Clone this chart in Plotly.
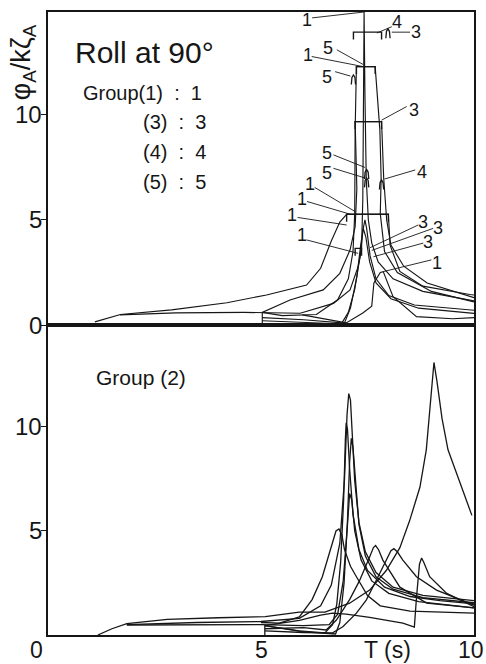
import plotly.graph_objects as go

INK = "#161616"
FONT = "Liberation Sans, Arial, sans-serif"
NUMFONT = "Liberation Sans Narrow, Liberation Sans, Arial, sans-serif"

# ---------------- Upper panel: Groups (1), (3), (4), (5) ----------------
# Period T (s) and non-dimensional roll amplitude for each traced curve
u1_T = [1.1, 1.7, 2.9, 4.2, 5.13, 6.07, 6.4, 6.65, 6.85, 7.01, 7.99, 8.03, 8.26, 8.8, 9.9, 10.0]
u1_y = [0.15, 0.5, 0.72, 1.06, 1.43, 1.9, 2.7, 4.0, 4.9, 5.27, 5.27, 3.8, 2.55, 1.85, 1.45, 1.43]

u2_T = [1.69, 3.0, 4.6, 5.92, 6.7, 7.09, 7.28, 7.36, 7.39, 7.41, 7.42, 7.44, 7.47, 7.52, 7.6, 7.75, 8.1, 8.8, 10.0]
u2_y = [0.48, 0.58, 0.6, 0.56, 1.03, 1.67, 2.78, 3.57, 6.0, 10.0, 14.9, 11.0, 7.0, 5.0, 3.9, 3.0, 2.2, 1.6, 1.15]

u3_T = [5.03, 5.03, 5.68, 6.46, 6.85, 7.09, 7.21, 7.25, 7.21, 7.83, 7.88, 7.95, 8.05, 8.35, 8.9, 10.0]
u3_y = [0.0, 0.6, 1.19, 1.67, 2.46, 3.57, 4.68, 6.5, 9.68, 9.68, 7.0, 5.0, 3.8, 2.8, 2.0, 1.3]

u4_T = [5.03, 5.5, 6.3, 6.8, 7.05, 7.16, 7.2, 7.21, 7.24, 7.68, 7.79, 7.82, 7.8, 7.9, 8.2, 9.0, 10.0]
u4_y = [0.6, 0.45, 0.5, 1.2, 2.2, 3.5, 5.3, 9.3, 12.3, 12.3, 9.3, 7.0, 5.3, 3.5, 2.5, 1.6, 1.1]

u5_T = [5.03, 6.0, 6.9, 7.05, 7.2, 7.32, 7.4, 7.44, 7.48, 7.56, 7.7, 8.0, 8.6, 10.0]
u5_y = [0.35, 0.25, 0.1, 0.6, 1.7, 3.2, 4.6, 5.0, 4.6, 3.3, 2.2, 1.4, 0.95, 0.7]

u6_T = [5.03, 6.2, 6.95, 7.1, 7.25, 7.34, 7.4, 7.46, 7.55, 7.7, 8.05, 8.7, 10.0]
u6_y = [0.2, 0.12, 0.05, 0.8, 2.3, 3.8, 4.6, 4.2, 3.0, 2.0, 1.25, 0.8, 0.55]

u7_T = [5.97, 6.6, 7.0, 7.39, 7.6, 7.65, 7.8, 7.87, 8.1, 8.65, 9.5, 10.0]
u7_y = [0.48, 0.25, 0.1, 0.57, 0.9, 2.0, 2.5, 2.54, 1.35, 0.4, 0.3, 0.35]

upper_curves = [(u1_T, u1_y), (u2_T, u2_y), (u3_T, u3_y), (u4_T, u4_y),
                (u5_T, u5_y), (u6_T, u6_y), (u7_T, u7_y)]

# Flat-topped peak markers: left T, right T, level
bar_T0 = [7.17, 7.24, 7.21, 7.01, 7.21]
bar_T1 = [7.83, 7.68, 7.83, 7.99, 7.36]
bar_y = [13.94, 12.3, 9.68, 5.27, 3.65]

# Small isolated peak tips: T, level
tip_T = [7.98, 7.17, 7.48, 7.48, 7.83]
tip_y = [14.1, 11.9, 7.4, 7.0, 6.9]

# Curve group numbers and their leader lines
lab_text = ["1", "4", "3", "5", "1", "5", "3", "5", "5", "4", "1", "1", "1", "1", "3", "3", "3", "1"]
lab_T = [6.07, 8.19, 8.65, 6.58, 6.11, 6.54, 8.58, 6.54, 6.54, 8.77, 6.16, 5.97, 5.73, 5.96, 8.81, 9.16, 8.93, 9.12]
lab_y = [14.52, 14.44, 13.97, 13.18, 12.86, 11.82, 10.24, 8.18, 7.22, 7.3, 6.72, 6.02, 5.26, 4.29, 4.92, 4.6, 3.97, 2.94]
lead_T0 = [6.2, 8.07, 8.5, 6.78, 6.19, 6.74, 8.42, 6.7, 6.7, 8.62, 6.26, 6.08, 5.86, 6.07, 8.69, 9.04, 8.81, 9.0]
lead_y0 = [14.62, 14.2, 13.94, 13.1, 12.78, 12.06, 10.4, 8.1, 7.46, 7.38, 6.55, 5.88, 5.12, 4.05, 4.76, 4.6, 3.9, 3.1]
lead_T1 = [7.42, 7.72, 8.07, 7.4, 7.4, 7.1, 7.83, 7.44, 7.44, 7.9, 7.21, 7.1, 7.01, 7.28, 7.56, 7.6, 7.64, 7.87]
lead_y1 = [14.9, 13.9, 13.94, 12.4, 12.3, 11.85, 9.75, 7.5, 7.0, 6.95, 5.4, 5.27, 4.76, 3.41, 3.68, 3.55, 3.25, 2.54]

# ---------------- Lower panel: Group (2) ----------------
b_big_T = [1.17, 1.5, 1.85, 2.8, 4.0, 5.1, 5.9, 6.5, 7.08, 7.55, 7.94, 8.26, 8.49, 8.73, 8.88, 8.98, 9.06, 9.13, 9.25, 9.39, 9.71, 9.95]
b_big_y = [0.0, 0.3, 0.55, 0.75, 0.83, 0.88, 1.1, 1.1, 1.53, 2.16, 3.1, 4.2, 5.5, 7.1, 8.9, 11.3, 13.1, 12.2, 10.4, 8.9, 7.1, 5.75]

b_a_T = [1.85, 3.5, 5.0, 5.9, 6.4, 6.65, 6.85, 6.96, 7.02, 7.06, 7.1, 7.14, 7.2, 7.3, 7.45, 7.7, 8.1, 8.8, 10.0]
b_a_y = [0.5, 0.6, 0.65, 0.8, 1.4, 2.4, 4.4, 7.5, 10.6, 11.6, 11.3, 9.6, 7.4, 5.4, 4.0, 3.0, 2.3, 1.9, 1.65]

b_b_T = [5.09, 5.09, 5.9, 6.5, 6.68, 6.78, 6.87, 6.94, 6.98, 7.0, 7.03, 7.08, 7.16, 7.3, 7.5, 7.9, 8.5, 9.2, 10.0]
b_b_y = [0.0, 0.45, 0.2, 0.1, 0.5, 1.5, 3.5, 6.5, 9.4, 10.2, 9.9, 8.0, 5.8, 4.1, 3.1, 2.3, 1.85, 1.65, 1.5]

b_c_T = [5.09, 6.0, 6.75, 6.85, 6.95, 7.03, 7.08, 7.12, 7.16, 7.22, 7.3, 7.45, 7.7, 8.1, 8.8, 10.0]
b_c_y = [0.45, 0.15, 0.05, 0.6, 2.5, 5.5, 8.3, 9.45, 9.0, 7.2, 5.3, 3.8, 2.8, 2.2, 1.8, 1.55]

b_d_T = [1.85, 3.5, 5.0, 6.0, 6.6, 6.8, 6.93, 7.02, 7.08, 7.13, 7.2, 7.35, 7.6, 8.0, 8.7, 10.0]
b_d_y = [0.48, 0.48, 0.5, 0.45, 0.5, 1.0, 2.6, 5.0, 6.8, 6.5, 5.0, 3.6, 2.6, 2.0, 1.6, 1.3]

b_e_T = [5.0, 5.43, 5.9, 6.2, 6.44, 6.65, 6.76, 6.83, 6.9, 6.96, 7.1, 7.24, 7.5, 7.8, 8.5, 10.0]
b_e_y = [0.6, 0.57, 0.87, 1.7, 2.8, 4.2, 5.0, 5.1, 4.8, 4.1, 3.3, 2.8, 1.9, 1.4, 1.15, 1.05]

b_f_T = [5.09, 6.0, 6.53, 6.77, 7.08, 7.31, 7.55, 7.64, 7.69, 7.76, 7.86, 8.26, 8.89, 10.0]
b_f_y = [0.3, 0.35, 0.24, 0.72, 1.7, 2.6, 3.75, 4.2, 4.3, 4.1, 3.6, 2.3, 1.53, 1.3]

b_g_T = [5.09, 6.0, 6.68, 6.92, 7.24, 7.47, 7.71, 7.94, 8.05, 8.12, 8.2, 8.33, 8.65, 9.12, 10.0]
b_g_y = [0.2, 0.12, 0.1, 0.4, 1.05, 1.68, 2.64, 3.6, 4.05, 4.15, 4.0, 3.6, 2.8, 2.16, 1.44]

b_h_T = [5.09, 5.9, 6.4, 6.68, 7.0, 7.55, 8.33, 8.6, 8.65, 8.72, 8.77, 8.82, 8.96, 9.36, 10.0]
b_h_y = [0.45, 0.7, 0.95, 1.05, 1.0, 0.85, 0.57, 0.38, 1.8, 3.4, 3.7, 3.5, 2.8, 2.0, 1.36]

lower_curves = [(b_big_T, b_big_y), (b_a_T, b_a_y), (b_b_T, b_b_y), (b_c_T, b_c_y),
                (b_d_T, b_d_y), (b_e_T, b_e_y), (b_f_T, b_f_y), (b_g_T, b_g_y),
                (b_h_T, b_h_y)]

# Axis tick values and their labels
y_ticks_upper = [0, 5, 10]
y_ticks_lower = [5, 10]
x_ticks = [5, 10]
x_tick_text = ["5", "10"]

fig = go.Figure()


def add_line(xs, ys, panel, width=1.2):
    xa, ya = ("x", "y") if panel == 1 else ("x2", "y2")
    fig.add_trace(go.Scatter(x=xs, y=ys, mode="lines", xaxis=xa, yaxis=ya,
                             line=dict(color=INK, width=width),
                             hoverinfo="skip", showlegend=False))


for T, y in upper_curves:
    add_line(T, y, 1, width=1.15)
for T, y in lower_curves:
    add_line(T, y, 2, width=1.3)

# flat-topped markers with short end hooks
hook = 0.35
for t0, t1, h in zip(bar_T0, bar_T1, bar_y):
    add_line([t0, t0, t1, t1], [h - hook, h, h, h - hook], 1, width=1.4)

# small arch-shaped peak tips
for t, h in zip(tip_T, tip_y):
    add_line([t - 0.05, t - 0.035, t, t + 0.035, t + 0.05],
             [h - 0.45, h - 0.12, h, h - 0.12, h - 0.45], 1, width=1.3)

# leader lines from group numbers to curves
lx, ly = [], []
for a, b, c, d in zip(lead_T0, lead_y0, lead_T1, lead_y1):
    lx += [a, c, None]
    ly += [b, d, None]
add_line(lx, ly, 1, width=0.9)

annotations = []
for s, t, h in zip(lab_text, lab_T, lab_y):
    annotations.append(dict(x=t, y=h, xref="x", yref="y", text=s, showarrow=False,
                            font=dict(size=18, color=INK, family=FONT), borderpad=0,
                            xanchor="center", yanchor="middle"))

# y tick labels, right-aligned just left of the tick marks
TICK_X = -0.0105
for v in y_ticks_upper:
    annotations.append(dict(x=TICK_X, y=v, xref="paper", yref="y", text=str(v),
                            showarrow=False, xanchor="right", yanchor="middle",
                            font=dict(size=24, color=INK, family=NUMFONT)))
for v in y_ticks_lower:
    annotations.append(dict(x=TICK_X, y=v, xref="paper", yref="y2", text=str(v),
                            showarrow=False, xanchor="right", yanchor="middle",
                            font=dict(size=24, color=INK, family=NUMFONT)))

# period-axis labels under the lower panel
XLAB_Y = -0.0235
for v, s in zip(x_ticks, x_tick_text):
    if v == 10:
        annotations.append(dict(x=1.028, y=XLAB_Y, xref="paper", yref="paper", text=s,
                                showarrow=False, xanchor="right", yanchor="middle",
                                font=dict(size=23, color=INK, family=NUMFONT)))
    else:
        annotations.append(dict(x=v, y=XLAB_Y, xref="x2", yref="paper", text=s,
                                showarrow=False, xanchor="center", yanchor="middle",
                                font=dict(size=23, color=INK, family=NUMFONT)))

annotations += [
    dict(x=-0.026, y=XLAB_Y, xref="paper", yref="paper", text="0", showarrow=False,
         font=dict(size=23, color=INK, family=NUMFONT), xanchor="center", yanchor="middle"),
    dict(x=7.96, y=XLAB_Y, xref="x2", yref="paper", text="T (s)", showarrow=False,
         font=dict(size=23, color=INK, family=FONT), xanchor="center", yanchor="middle"),
    dict(x=0.59, y=12.95, xref="x", yref="y", text="Roll at 90°", showarrow=False,
         font=dict(size=30, color=INK, family=FONT), xanchor="left", yanchor="middle"),
    dict(x=3.66, y=11.05, xref="x", yref="y", text="Group(1)\u00a0 :\u00a0 1", showarrow=False,
         font=dict(size=20, color=INK, family=FONT), xanchor="right", yanchor="middle"),
    dict(x=3.76, y=9.67, xref="x", yref="y", text="(3)\u00a0 :\u00a0 3", showarrow=False,
         font=dict(size=20, color=INK, family=FONT), xanchor="right", yanchor="middle"),
    dict(x=3.76, y=8.24, xref="x", yref="y", text="(4)\u00a0 :\u00a0 4", showarrow=False,
         font=dict(size=20, color=INK, family=FONT), xanchor="right", yanchor="middle"),
    dict(x=3.76, y=6.81, xref="x", yref="y", text="(5)\u00a0 :\u00a0 5", showarrow=False,
         font=dict(size=20, color=INK, family=FONT), xanchor="right", yanchor="middle"),
    dict(x=2.19, y=12.36, xref="x2", yref="y2", text="Group (2)", showarrow=False,
         font=dict(size=21, color=INK, family=FONT), xanchor="center", yanchor="middle"),
    # vertical axis title
    dict(x=-0.058, y=0.984, xref="paper", yref="paper",
         text="φ<sub>A</sub>/kζ<sub>A</sub>", textangle=-90, showarrow=False,
         font=dict(size=27, color=INK, family=FONT), xanchor="center", yanchor="top"),
]

split = (635 - 325) / 623.0
axis_line = dict(showline=True, linecolor=INK, linewidth=1.6, mirror=True,
                 showgrid=False, zeroline=False, automargin=False)
y_tick_style = dict(ticks="outside", ticklen=5, tickwidth=1.3, tickcolor=INK,
                    showticklabels=False)

fig.update_layout(
    width=486, height=664,
    margin=dict(l=48, r=12, t=12, b=29),
    paper_bgcolor="white", plot_bgcolor="white",
    font=dict(family=FONT, color=INK),
    showlegend=False,
    xaxis=dict(domain=[0, 1], range=[0, 10], anchor="y", showticklabels=False,
               ticks="", **axis_line),
    yaxis=dict(domain=[split, 1], range=[0, 14.9], anchor="x",
               tickvals=y_ticks_upper, **y_tick_style, **axis_line),
    xaxis2=dict(domain=[0, 1], range=[0, 10], anchor="y2", tickvals=x_ticks,
                showticklabels=False, ticks="", **axis_line),
    yaxis2=dict(domain=[0, split], range=[0, 14.9], anchor="x2",
                tickvals=y_ticks_lower, **y_tick_style, **axis_line),
    annotations=annotations,
)

fig.write_html("out.html")
